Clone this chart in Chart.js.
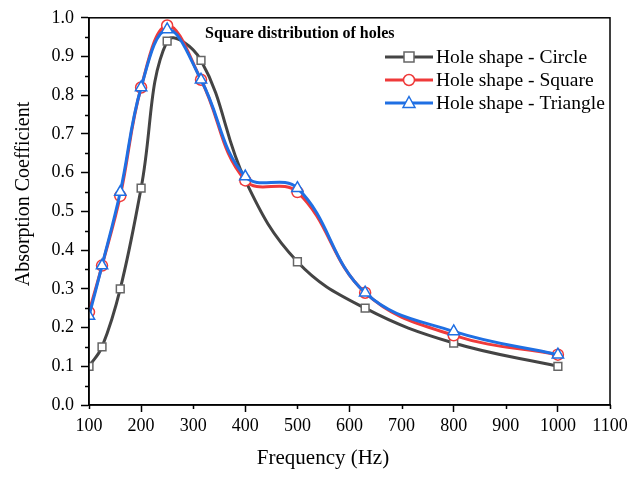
<!DOCTYPE html>
<html>
<head>
<meta charset="utf-8">
<script src="https://cdn.jsdelivr.net/npm/chart.js@4"></script>
<style>
  html, body { margin: 0; padding: 0; background: #fff; }
</style>
</head>
<body>
<canvas id="chartHoles" width="643" height="477"></canvas>
<script>
// frequencies (Hz)
var freqs = [100, 125, 160, 200, 250, 315, 400, 500, 630, 800, 1000];
// absorption coefficient per hole shape
var circleVals   = [0.10, 0.15, 0.30, 0.56, 0.94, 0.89, 0.58, 0.37, 0.25, 0.16, 0.10];
var squareVals   = [0.24, 0.36, 0.54, 0.82, 0.98, 0.84, 0.58, 0.55, 0.29, 0.18, 0.13];
var triangleVals = [0.23, 0.36, 0.55, 0.82, 0.97, 0.84, 0.59, 0.56, 0.29, 0.19, 0.13];
var seriesNames = ['Hole shape - Circle', 'Hole shape - Square', 'Hole shape - Triangle'];
var legendTitle = 'Square distribution of holes';
var xTitle = 'Frequency (Hz)';
var yTitle = 'Absorption Coefficient';

var serif = "'Liberation Serif', 'Times New Roman', serif";

function pts(vals) {
  return freqs.map(function (f, i) { return { x: f, y: vals[i] }; });
}

function mkSet(name, vals, color, markerColor, style, rad, ord) {
  return {
    label: name,
    data: pts(vals),
    order: ord,
    borderColor: color,
    borderWidth: 3,
    tension: 0.4,
    fill: false,
    pointStyle: style,
    pointRadius: rad,
    pointBorderWidth: 1.5,
    pointBorderColor: markerColor,
    pointBackgroundColor: '#ffffff'
  };
}

// minor ticks: y at odd 0.05 steps, x at odd hundreds
function isMinorY(v) { return Math.round(v * 100) % 10 !== 0; }
function isMinorX(v) { return Math.round(v / 100) % 2 === 1; }

// frame, short minor ticks, axis titles and legend
var framePlugin = {
  id: 'frame',
  afterDraw: function (chart) {
    var c = chart.ctx, a = chart.chartArea;
    var sx = chart.scales.x, sy = chart.scales.y;
    c.save();
    c.strokeStyle = '#000';
    c.lineWidth = 1.5;
    c.strokeRect(a.left, a.top, a.right - a.left, a.bottom - a.top);

    c.beginPath();
    sy.ticks.forEach(function (t) {
      if (!isMinorY(t.value)) return;
      var py = Math.round(sy.getPixelForValue(t.value)) + 0.5;
      c.moveTo(a.left - 4, py);
      c.lineTo(a.left, py);
    });
    sx.ticks.forEach(function (t) {
      if (!isMinorX(t.value)) return;
      var px = Math.round(sx.getPixelForValue(t.value)) + 0.5;
      c.moveTo(px, a.bottom);
      c.lineTo(px, a.bottom + 4);
    });
    c.stroke();

    // axis titles
    c.fillStyle = '#000';
    c.textAlign = 'center';
    c.textBaseline = 'middle';
    c.font = '21px ' + serif;
    c.fillText(xTitle, 323, 458);
    c.save();
    c.translate(24, 194);
    c.rotate(-Math.PI / 2);
    c.font = '20px ' + serif;
    c.fillText(yTitle, 0, 0);
    c.restore();

    // legend
    c.textAlign = 'left';
    c.font = 'bold 16px ' + serif;
    c.textBaseline = 'alphabetic';
    c.fillText(legendTitle, 205, 38);

    var rows = [57, 80, 103];
    chart.data.datasets.forEach(function (ds, i) {
      var y = rows[i];
      var mx = 409;
      c.strokeStyle = ds.borderColor;
      c.lineWidth = 3;
      c.beginPath();
      c.moveTo(385, y);
      c.lineTo(433, y);
      c.stroke();
      c.fillStyle = '#fff';
      c.strokeStyle = ds.pointBorderColor;
      c.lineWidth = 1.5;
      c.beginPath();
      if (ds.pointStyle === 'rect') {
        c.rect(mx - 5, y - 5, 10, 10);
      } else if (ds.pointStyle === 'circle') {
        c.arc(mx, y, 5.5, 0, Math.PI * 2);
      } else {
        c.moveTo(mx, y - 6.5);
        c.lineTo(mx + 6, y + 4.5);
        c.lineTo(mx - 6, y + 4.5);
        c.closePath();
      }
      c.fill();
      c.stroke();
      c.fillStyle = '#000';
      c.font = '19.5px ' + serif;
      c.textBaseline = 'middle';
      c.fillText(ds.label, 436, y + 1);
    });
    c.restore();
  }
};

var ctx = document.getElementById('chartHoles');
var chart = new Chart(ctx, {
  type: 'line',
  data: {
    datasets: [
      mkSet(seriesNames[0], circleVals, '#444444', '#666666', 'rect', 5.5, 2),
      mkSet(seriesNames[1], squareVals, '#ef3a3a', '#ef3a3a', 'circle', 5.5, 1),
      mkSet(seriesNames[2], triangleVals, '#1f6fe3', '#1f6fe3', 'triangle', 6.5, 0)
    ]
  },
  options: {
    responsive: false,
    animation: false,
    layout: { padding: { top: 16, right: 33, left: 0, bottom: 0 } },
    plugins: { legend: { display: false }, tooltip: { enabled: false } },
    scales: {
      x: {
        type: 'linear',
        min: 100, max: 1100,
        afterFit: function (s) { s.height = 72; },
        border: { color: '#000', width: 1.5 },
        grid: {
          drawOnChartArea: false, tickLength: 7, tickWidth: 1.5,
          tickColor: function (cx) { return cx.tick && isMinorX(cx.tick.value) ? 'rgba(0,0,0,0)' : '#000'; }
        },
        ticks: {
          stepSize: 100, autoSkip: false, maxRotation: 0, color: '#000',
          font: { family: serif, size: 18 }, padding: 3,
          callback: function (v) { return String(v); }
        }
      },
      y: {
        min: 0, max: 1,
        afterFit: function (s) { s.width = 89; },
        border: { color: '#000', width: 1.5 },
        grid: {
          drawOnChartArea: false, tickLength: 8, tickWidth: 1.5,
          tickColor: function (cx) { return cx.tick && isMinorY(cx.tick.value) ? 'rgba(0,0,0,0)' : '#000'; }
        },
        ticks: {
          stepSize: 0.05, color: '#000', font: { family: serif, size: 18 }, padding: 7,
          autoSkip: false,
          callback: function (v) {
            return isMinorY(v) ? '' : v.toFixed(1);
          }
        }
      }
    }
  },
  plugins: [framePlugin]
});
</script>
</body>
</html>
